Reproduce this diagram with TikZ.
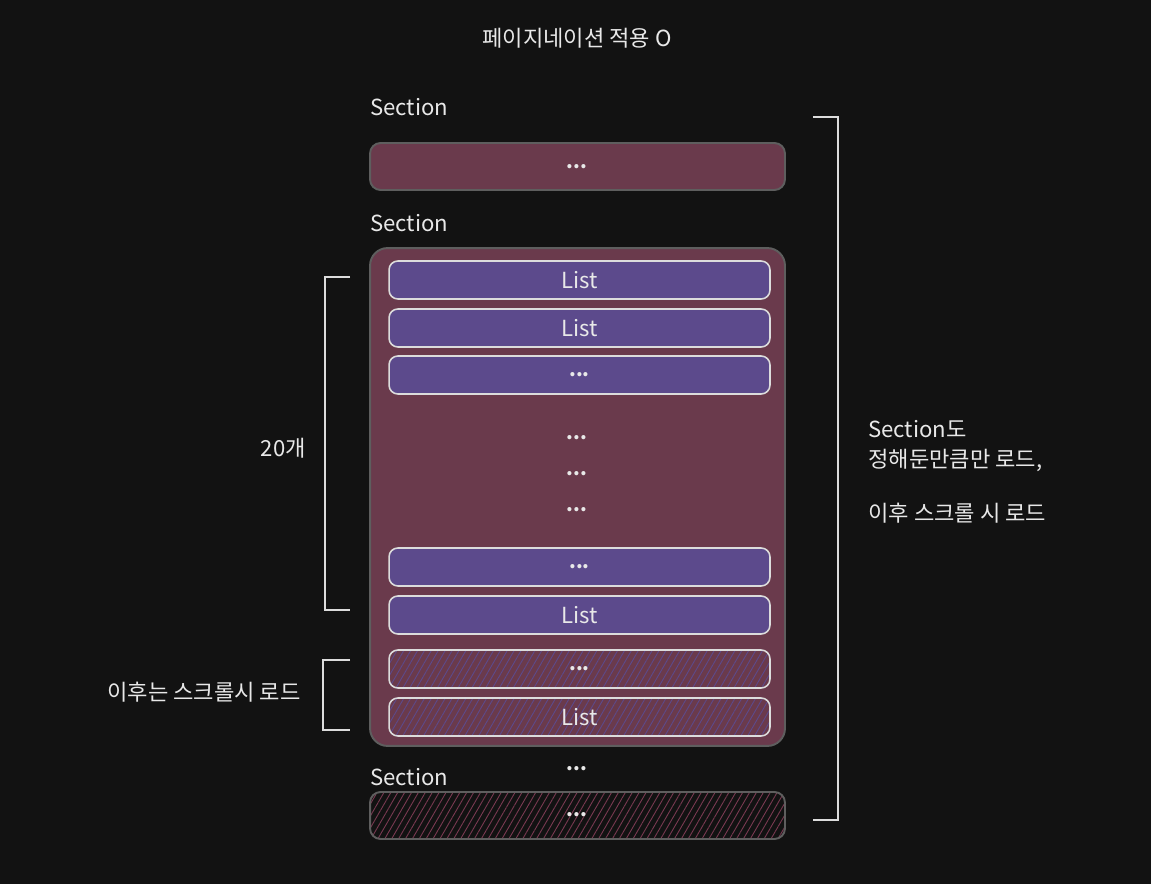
\documentclass[tikz,border=0pt]{standalone}
\usepackage{fontspec}
\setmainfont{Noto Sans CJK KR}
\usetikzlibrary{patterns.meta}
\definecolor{bg}{HTML}{121212}
\definecolor{maroon}{HTML}{6A3A4C}
\definecolor{purp}{HTML}{5C4A8C}
\definecolor{secstroke}{HTML}{5E5E5E}
\definecolor{liststroke}{HTML}{DCDCDC}
\definecolor{txt}{HTML}{E8E8E8}
\definecolor{hatchred}{HTML}{7A3A52}
\tikzset{
  x=0.02cm, y=-0.02cm,
  lbl/.style={text=txt, font=\fontsize{12.6}{15}\selectfont, inner sep=0pt},
  dots/.style={text=txt, font=\fontsize{11}{13}\selectfont\bfseries, inner sep=0pt},
  listbox/.style={draw=liststroke, line width=0.9pt, fill=purp, rounded corners=5pt,
     minimum width=7.62cm, minimum height=0.76cm, inner sep=0pt, text=txt, font=\fontsize{12.6}{15}\selectfont},
  hatchlist/.style={listbox, fill=none, preaction={fill=maroon},
     pattern={Lines[angle=60,distance=3.4pt,line width=0.5pt]}, pattern color=purp},
  bracket/.style={draw=liststroke, line width=0.8pt},
}
\begin{document}
\begin{tikzpicture}
\fill[bg] (0,0) rectangle (1151,884);
\useasboundingbox (0,0) rectangle (1151,884);

\node[lbl] (title) at (577,38) {페이지네이션 적용 O};

% Section 1
\node[lbl, anchor=west] (sec1lbl) at (370,107) {Section};
\node[draw=secstroke, line width=1.1pt, fill=maroon, rounded corners=6pt,
      minimum width=8.3cm, minimum height=0.94cm, inner sep=0pt] (sec1) at (577.5,166.5) {};
\node[dots] (sec1dots) at (577,167) {...};

% Section 2
\node[lbl, anchor=west] (sec2lbl) at (370,223) {Section};
\node[draw=secstroke, line width=1.1pt, fill=maroon, rounded corners=10pt,
      minimum width=8.3cm, minimum height=9.96cm, inner sep=0pt] (sec2) at (577.5,497) {};

\node[listbox] (l1) at (579.5,280) {List};
\node[listbox] (l2) at (579.5,328) {List};
\node[listbox] (l3) at (579.5,375) {\fontsize{11}{13}\selectfont\bfseries ...};
\node[dots] (d1) at (577,438) {...};
\node[dots] (d2) at (577,474) {...};
\node[dots] (d3) at (577,510) {...};
\node[listbox] (l4) at (579.5,567) {\fontsize{11}{13}\selectfont\bfseries ...};
\node[listbox] (l5) at (579.5,615) {List};
\node[hatchlist] (l6) at (579.5,669) {\fontsize{11}{13}\selectfont\bfseries ...};
\node[hatchlist] (l7) at (579.5,717) {List};

% between
\node[dots] (d4) at (577,769) {...};

% Section 3
\node[lbl, anchor=west] (sec3lbl) at (370,777) {Section};
\node[draw=secstroke, line width=1.1pt, rounded corners=6pt,
      pattern={Lines[angle=60,distance=3.4pt,line width=0.5pt]}, pattern color=hatchred,
      minimum width=8.3cm, minimum height=0.94cm, inner sep=0pt] (sec3) at (577.5,815.5) {};
\node[dots] (sec3dots) at (577,815) {...};

% right bracket
\coordinate (r1) at (813,117);
\coordinate (r2) at (838,117);
\coordinate (r3) at (838,820);
\coordinate (r4) at (813,820);
\draw[bracket] (r1) -- (r2) -- (r3) -- (r4);
\node[lbl, anchor=north west, align=left, font=\fontsize{12.6}{17}\selectfont] (rtext) at (868,420)
  {Section도\\정해둔만큼만 로드,\\[14pt]이후 스크롤 시 로드};

% left bracket 1
\coordinate (a1) at (350,277);
\coordinate (a2) at (325,277);
\coordinate (a3) at (325,610);
\coordinate (a4) at (350,610);
\draw[bracket] (a1) -- (a2) -- (a3) -- (a4);
\node[lbl, anchor=east] (cnt) at (306,448) {20개};

% left bracket 2
\coordinate (b1) at (350,660);
\coordinate (b2) at (323,660);
\coordinate (b3) at (323,730);
\coordinate (b4) at (350,730);
\draw[bracket] (b1) -- (b2) -- (b3) -- (b4);
\node[lbl, anchor=east] (later) at (301,692) {이후는 스크롤시 로드};
\end{tikzpicture}
\end{document}
